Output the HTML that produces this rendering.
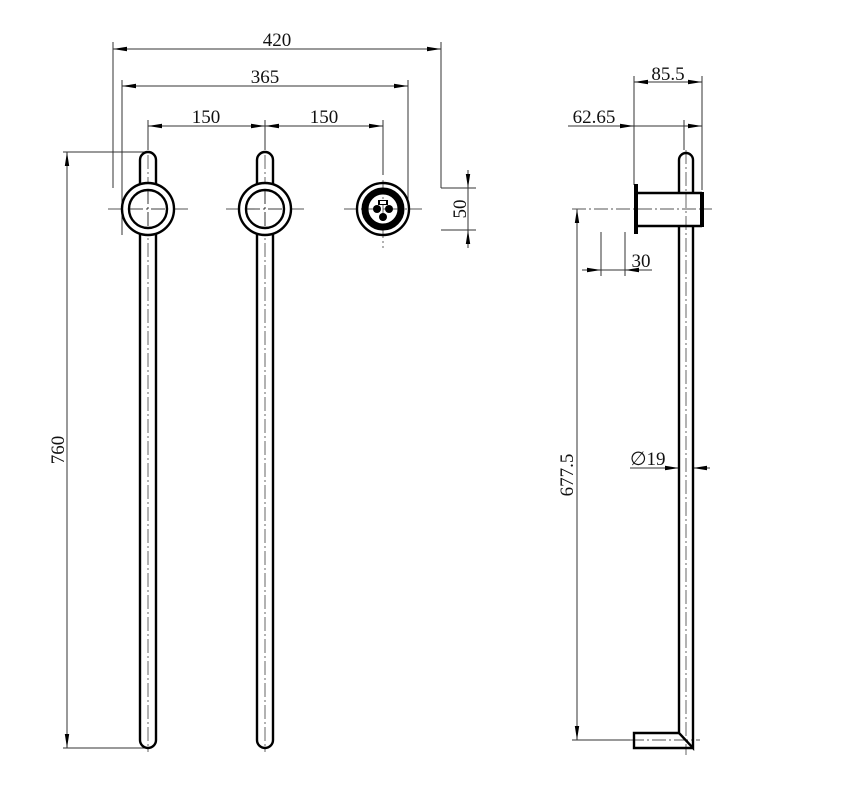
<!DOCTYPE html>
<html><head><style>
html,body{margin:0;padding:0;background:#fff;}
svg{display:block;}
text{font-family:"Liberation Serif",serif;font-size:19px;fill:#111;}
</style></head><body>
<svg width="850" height="809" viewBox="0 0 850 809" xmlns="http://www.w3.org/2000/svg">
<defs>
<marker id="a" viewBox="0 0 14 6" refX="14" refY="3" markerWidth="14" markerHeight="6" orient="auto-start-reverse" markerUnits="userSpaceOnUse"><path d="M0,0.8 L14,3 L0,5.2 Z" fill="#000"/></marker>
</defs>
<g stroke="#333" stroke-width="1" fill="none">
<line x1="113" y1="42" x2="113" y2="188"/>
<line x1="122" y1="80" x2="122" y2="235"/>
<line x1="441" y1="42" x2="441" y2="188"/>
<line x1="408" y1="80" x2="408" y2="200"/>
<line x1="148" y1="120" x2="148" y2="150"/>
<line x1="265" y1="120" x2="265" y2="150"/>
<line x1="383" y1="120" x2="383" y2="175"/>
<line x1="441" y1="188" x2="476" y2="188"/>
<line x1="441" y1="230" x2="476" y2="230"/>
<line x1="63" y1="152" x2="148" y2="152"/>
<line x1="63" y1="748" x2="148" y2="748"/>
<line x1="113" y1="49" x2="441" y2="49" marker-start="url(#a)" marker-end="url(#a)"/>
<line x1="122" y1="86" x2="408" y2="86" marker-start="url(#a)" marker-end="url(#a)"/>
<line x1="148" y1="126" x2="265" y2="126" marker-start="url(#a)" marker-end="url(#a)"/>
<line x1="265" y1="126" x2="383" y2="126" marker-start="url(#a)" marker-end="url(#a)"/>
<line x1="468" y1="170" x2="468" y2="188" marker-end="url(#a)"/>
<line x1="468" y1="248" x2="468" y2="230" marker-end="url(#a)"/>
<line x1="468" y1="188" x2="468" y2="230"/>
<line x1="67" y1="152" x2="67" y2="748" marker-start="url(#a)" marker-end="url(#a)"/>
<line x1="634" y1="76" x2="634" y2="185"/>
<line x1="702" y1="76" x2="702" y2="190"/>
<line x1="684" y1="120" x2="684" y2="150"/>
<line x1="634" y1="82" x2="702" y2="82" marker-start="url(#a)" marker-end="url(#a)"/>
<line x1="568" y1="126" x2="634" y2="126" marker-end="url(#a)"/>
<line x1="634" y1="126" x2="702" y2="126" marker-end="url(#a)"/>
<line x1="601" y1="232" x2="601" y2="276"/>
<line x1="625" y1="232" x2="625" y2="276"/>
<line x1="582" y1="270" x2="601" y2="270" marker-end="url(#a)"/>
<line x1="652" y1="270" x2="625" y2="270" marker-end="url(#a)"/>
<line x1="601" y1="270" x2="625" y2="270"/>
<line x1="577" y1="209" x2="577" y2="740" marker-start="url(#a)" marker-end="url(#a)"/>
<line x1="572" y1="740" x2="632" y2="740"/>
<line x1="630" y1="468" x2="679" y2="468" marker-end="url(#a)"/>
<line x1="710" y1="468" x2="693" y2="468" marker-end="url(#a)"/>
</g>
<g stroke="#555" stroke-width="0.9" fill="none" stroke-dasharray="14,3,2,3">
<line x1="108" y1="209" x2="188" y2="209"/>
<line x1="226" y1="209" x2="304" y2="209"/>
<line x1="344" y1="209" x2="422" y2="209"/>
<line x1="383" y1="180" x2="383" y2="248"/>
<line x1="148" y1="155" x2="148" y2="752"/>
<line x1="265" y1="155" x2="265" y2="752"/>
<line x1="572" y1="209" x2="712" y2="209"/>
<line x1="686" y1="150" x2="686" y2="755"/>
<line x1="630" y1="740" x2="700" y2="740"/>
</g>
<g stroke="#000" stroke-width="2.4" fill="none">
<path d="M140,740 V160 A8,8 0 0 1 156,160 V740 A8,8 0 0 1 140,740 Z"/>
<path d="M257,740 V160 A8,8 0 0 1 273,160 V740 A8,8 0 0 1 257,740 Z"/>
<circle cx="148" cy="209" r="26" fill="#fff"/>
<circle cx="148" cy="209" r="19"/>
<circle cx="265" cy="209" r="26" fill="#fff"/>
<circle cx="265" cy="209" r="19"/>
<circle cx="383" cy="209" r="26"/>
<path d="M679,193 V160 A7,7 0 0 1 693,160 V193"/>
<path d="M679,226 V733 L693,748 V226"/>
<path d="M679,733 H634 V748 H693"/>
<line x1="637" y1="193" x2="702" y2="193"/>
<line x1="637" y1="226" x2="702" y2="226"/>
</g>
<circle cx="383" cy="209" r="18" fill="none" stroke="#000" stroke-width="7"/>
<g stroke="#000" stroke-width="0.8" fill="none" stroke-dasharray="14,3,2,3">
<line x1="148" y1="190" x2="148" y2="228"/><line x1="129" y1="209" x2="167" y2="209"/>
<line x1="265" y1="190" x2="265" y2="228"/><line x1="246" y1="209" x2="284" y2="209"/>
</g>
<g fill="#000">
<rect x="378" y="200" width="10" height="5"/>
<circle cx="377" cy="209" r="4"/>
<circle cx="389" cy="209" r="4"/>
<circle cx="383" cy="217" r="4"/>
<rect x="634" y="184" width="4" height="50"/>
<rect x="700" y="192" width="4" height="35"/>
</g>
<rect x="380" y="201" width="6" height="3" fill="#fff"/>
<text x="277" y="46" text-anchor="middle">420</text>
<text x="265" y="83" text-anchor="middle">365</text>
<text x="206" y="123" text-anchor="middle">150</text>
<text x="324" y="123" text-anchor="middle">150</text>
<text transform="translate(466,209) rotate(-90)" text-anchor="middle">50</text>
<text transform="translate(64,450) rotate(-90)" text-anchor="middle">760</text>
<text x="668" y="80" text-anchor="middle">85.5</text>
<text x="594" y="123" text-anchor="middle">62.65</text>
<text x="641" y="267" text-anchor="middle">30</text>
<text transform="translate(573,475) rotate(-90)" text-anchor="middle">677.5</text>
<text x="630" y="465">∅19</text>
</svg>
</body></html>
